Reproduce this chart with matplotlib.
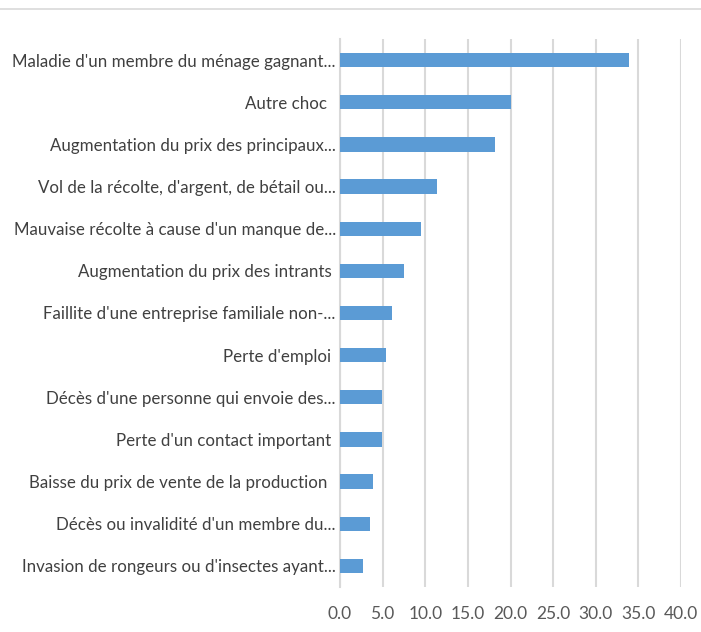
import matplotlib
matplotlib.use("Agg")
import matplotlib.pyplot as plt
from matplotlib.lines import Line2D

categories = [
    "Maladie d'un membre du ménage gagnant...",
    "Autre choc  ",
    "Augmentation du prix des principaux...",
    "Vol de la récolte, d'argent, de bétail ou...",
    "Mauvaise récolte à cause d'un manque de...",
    "Augmentation du prix des intrants ",
    "Faillite d'une entreprise familiale non-...",
    "Perte d'emploi ",
    "Décès d'une personne qui envoie des...",
    "Perte d'un contact important ",
    "Baisse du prix de vente de la production  ",
    "Décès ou invalidité d'un membre du...",
    "Invasion de rongeurs ou d'insectes ayant...",
]
values = [33.9, 20.0, 18.2, 11.4, 9.5, 7.5, 6.1, 5.4, 4.9, 4.9, 3.9, 3.5, 2.7]
xticks = [0, 5, 10, 15, 20, 25, 30, 35, 40]
xticklabels = ["0.0", "5.0", "10.0", "15.0", "20.0", "25.0", "30.0", "35.0", "40.0"]

plt.rcParams['font.family'] = ['Lato', 'DejaVu Sans']

fig = plt.figure(figsize=(7.01, 6.32), dpi=100)
W, H = 701, 632
ax = fig.add_axes([340 / W, 1 - 587 / H, (681 - 340) / W, (587 - 39) / H])

pos = list(range(len(categories)))
ax.barh(pos, values, height=0.34, color="#5B9BD5", zorder=3)
ax.set_ylim(len(categories) - 0.5, -0.5)
ax.set_xlim(0, 40)
ax.set_xticks(xticks)
ax.set_xticklabels(xticklabels, color="#595959", fontsize=12.5)
ax.set_yticks(pos)
ax.set_yticklabels(categories, color="#404040", fontsize=12.2)
ax.tick_params(axis="both", length=0)
ax.tick_params(axis="x", pad=14)
ax.tick_params(axis="y", pad=3)
ax.grid(axis="x", color="#D9D9D9", linewidth=1.5, zorder=0)
for s in ["top", "right", "bottom"]:
    ax.spines[s].set_visible(False)
ax.spines["left"].set_color("#D9D9D9")
ax.spines["left"].set_linewidth(1.5)

fig.add_artist(Line2D([0, 1], [1 - 8.5 / H, 1 - 8.5 / H], transform=fig.transFigure,
                      color="#D9D9D9", linewidth=1.2))

fig.savefig("out.png", dpi=100)
